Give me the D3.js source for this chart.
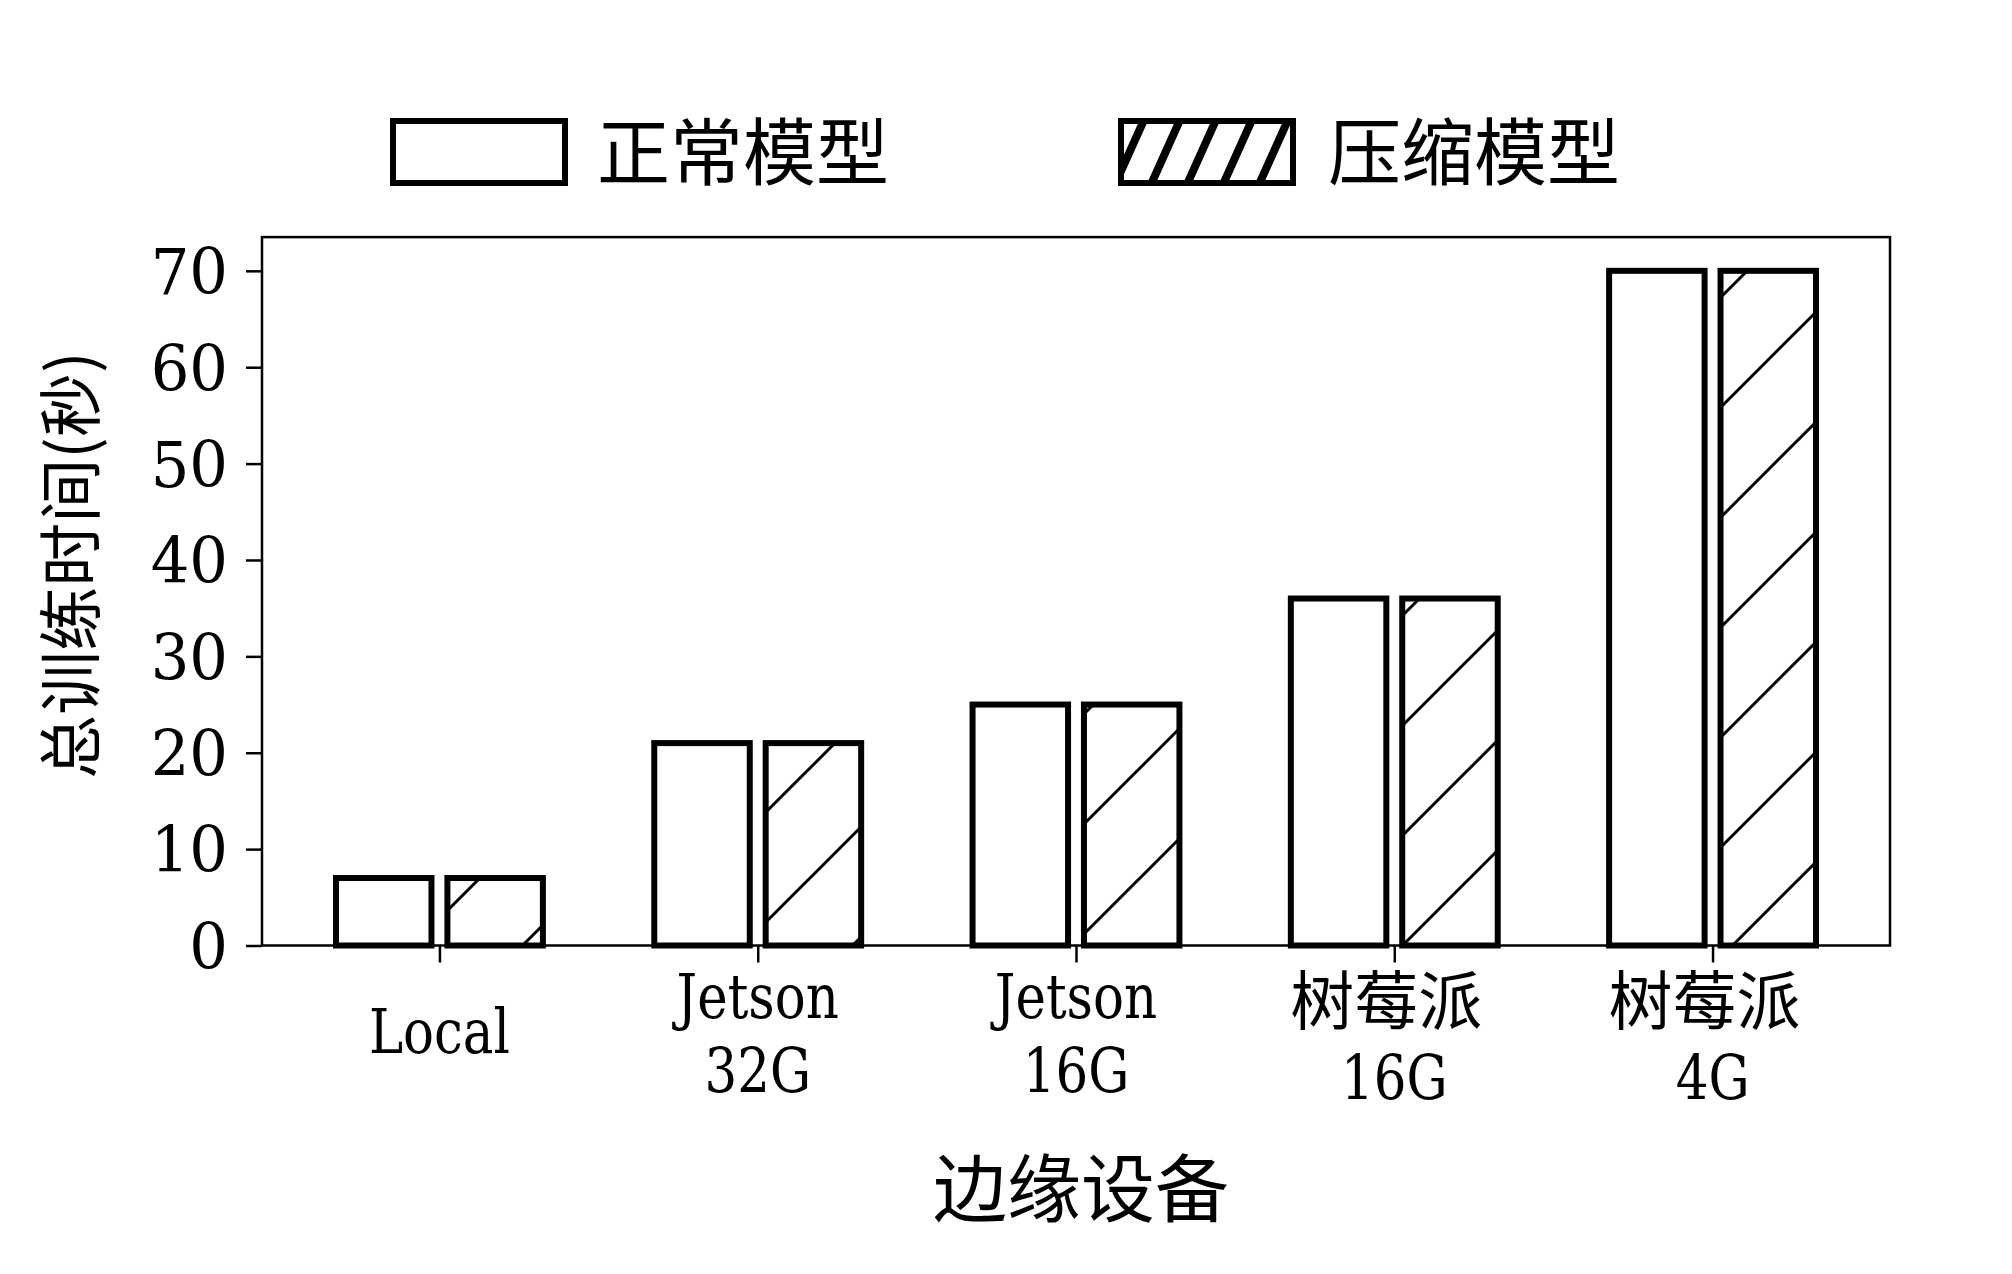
<!DOCTYPE html>
<html><head><meta charset="utf-8">
<script src="https://cdn.jsdelivr.net/npm/d3@7"></script>
<style>body{margin:0;background:#fff}svg{display:block}</style>
</head><body>
<svg id="chart" width="2012" height="1274"></svg>
<script>
// ---- data ----
const categories = [["Local"], ["Jetson", "32G"], ["Jetson", "16G"], ["树莓派", "16G"], ["树莓派", "4G"]];
const seriesNames = ["正常模型", "压缩模型"];
const normalValues = [7, 21, 25, 36, 70];
const compressedValues = [7, 21, 25, 36, 70];
const yTicks = [0, 10, 20, 30, 40, 50, 60, 70];
const xTitle = "边缘设备";
const yTitle = "总训练时间(秒)";

// ---- layout ----
const svg = d3.select("#chart");
const L = 262, R = 1890, T = 237.1, B = 945.5;
const x = d3.scaleLinear().domain([-0.5575, categories.length - 1 + 0.5575]).range([L, R]);
const y = d3.scaleLinear().domain([0, 73.5]).range([B, T]);
const barW = 0.3, off = 0.175;
const serif = "'DejaVu Serif', serif";
const cjk = "'Noto Sans CJK SC', sans-serif";

const defs = svg.append("defs");
const pb = defs.append("pattern").attr("id", "hatchBar").attr("patternUnits", "userSpaceOnUse")
  .attr("width", 110).attr("height", 110).attr("patternTransform", "translate(38,0)");
pb.append("rect").attr("width", 110).attr("height", 110).attr("fill", "#fff");
pb.append("path").attr("d", "M-6,6L6,-6M0,110L110,0M104,116L116,104")
  .attr("stroke", "#000").attr("stroke-width", 3).attr("fill", "none");

const pl = defs.append("pattern").attr("id", "hatchLegend").attr("patternUnits", "userSpaceOnUse")
  .attr("width", 36).attr("height", 80).attr("patternTransform", "translate(1126,0)");
pl.append("rect").attr("width", 36).attr("height", 80).attr("fill", "#fff");
pl.append("path").attr("d", "M-4,9L4,-9M0,80L36,0M32,89L40,71")
  .attr("stroke", "#000").attr("stroke-width", 8).attr("fill", "none");

// ---- bars ----
const idx = d3.range(categories.length);
const series = [
  {vals: normalValues, dx: -off, fill: "#fff"},
  {vals: compressedValues, dx: off, fill: "url(#hatchBar)"}
];
series.forEach(s => {
  svg.append("g").selectAll("rect").data(idx).join("rect")
    .attr("x", i => x(i + s.dx - barW / 2))
    .attr("width", x(barW) - x(0))
    .attr("y", i => y(s.vals[i]))
    .attr("height", i => y(0) - y(s.vals[i]))
    .attr("fill", s.fill).attr("stroke", "#000").attr("stroke-width", 6);
});

// ---- axes ----
const yAxis = svg.append("g").attr("transform", `translate(${L},0)`)
  .call(d3.axisLeft(y).tickValues(yTicks).tickSize(16).tickSizeOuter(0).tickFormat(""));
const xAxis = svg.append("g").attr("transform", `translate(0,${B})`)
  .call(d3.axisBottom(x).tickValues(idx).tickSize(17).tickSizeOuter(0).tickFormat(""));
[yAxis, xAxis].forEach(a => {
  a.select(".domain").remove();
  a.selectAll(".tick line").attr("stroke", "#000").attr("stroke-width", 2.5);
});
svg.append("rect").attr("x", L).attr("y", T).attr("width", R - L).attr("height", B - T)
  .attr("fill", "none").attr("stroke", "#000").attr("stroke-width", 2.5);

// y tick labels
svg.append("g").selectAll("text").data(yTicks).join("text")
  .attr("transform", d => `translate(228,${y(d) + 23.3}) scale(0.95,1)`)
  .attr("text-anchor", "end").attr("font-family", serif).attr("font-size", 64)
  .attr("fill", "#000").text(d => d);

// x tick labels
const isCJK = s => /[\u4e00-\u9fff]/.test(s);
const xl = svg.append("g");
categories.forEach((lines, i) => {
  const cx = x(i);
  const n = lines.length;
  lines.forEach((t, k) => {
    let by;
    if (n === 1) by = 1053;
    else if (isCJK(lines[0])) by = k === 0 ? 1024 : 1099;
    else by = k === 0 ? 1018 : 1092;
    if (isCJK(t)) {
      xl.append("text").attr("x", cx - 8).attr("y", by).attr("text-anchor", "middle")
        .attr("font-family", cjk).attr("font-size", 64).attr("fill", "#000").text(t);
    } else {
      xl.append("text").attr("transform", `translate(${cx},${by}) scale(0.83,1)`)
        .attr("text-anchor", "middle").attr("font-family", serif).attr("font-size", 62)
        .attr("fill", "#000").text(t);
    }
  });
});

// axis titles
svg.append("text").attr("x", 1081).attr("y", 1183).attr("text-anchor", "middle")
  .attr("dominant-baseline", "central").attr("font-family", cjk).attr("font-size", 74)
  .attr("fill", "#000").text(xTitle);
svg.append("text").attr("transform", "translate(66,565) rotate(-90)").attr("text-anchor", "middle")
  .attr("dominant-baseline", "central").attr("font-family", cjk).attr("font-size", 64)
  .attr("fill", "#000").text(yTitle);

// ---- legend ----
const legend = [
  {name: seriesNames[0], bx: 393, tx: 597, fill: "#fff"},
  {name: seriesNames[1], bx: 1121, tx: 1328, fill: "url(#hatchLegend)"}
];
legend.forEach(l => {
  svg.append("rect").attr("x", l.bx).attr("y", 121).attr("width", 172).attr("height", 62)
    .attr("fill", l.fill).attr("stroke", "#000").attr("stroke-width", 6);
  svg.append("text").attr("x", l.tx).attr("y", 147).attr("dominant-baseline", "central")
    .attr("font-family", cjk).attr("font-size", 73).attr("fill", "#000").text(l.name);
});
</script>
</body></html>
